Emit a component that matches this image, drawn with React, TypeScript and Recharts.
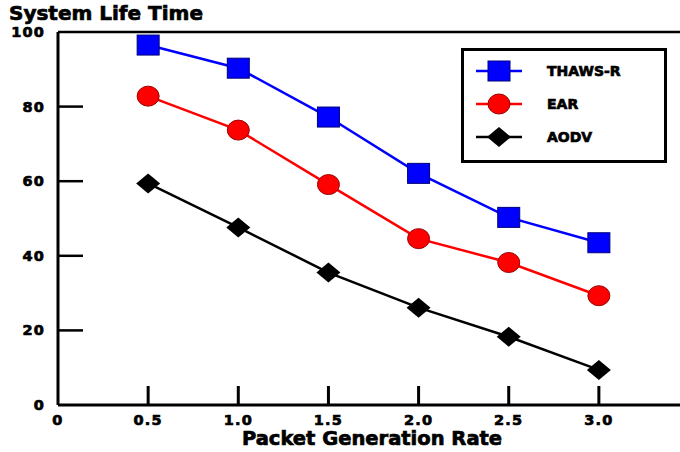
import { LineChart, Line, XAxis, YAxis, ReferenceLine } from 'recharts';

const rates = [0.5, 1.0, 1.5, 2.0, 2.5, 3.0];
const thawsR = [96.5, 90.3, 77.2, 62.1, 50.3, 43.5];
const ear = [82.8, 73.7, 59.1, 44.6, 38.2, 29.3];
const aodv = [59.4, 47.6, 35.5, 26.1, 18.3, 9.4];
const xTicks = [0, 0.5, 1.0, 1.5, 2.0, 2.5, 3.0];
const yTicks = [0, 20, 40, 60, 80, 100];

const data = rates.map((r, i) => ({ rate: r, thaws: thawsR[i], ear: ear[i], aodv: aodv[i] }));

const FONT = '"DejaVu Sans", Verdana, sans-serif';
const heavy = { fontFamily: FONT, fontWeight: 'bold' as const, fill: '#000', stroke: '#000', strokeWidth: 0.7 };

const SquareDot = (props: any) => {
  const { cx, cy } = props;
  if (cx == null || cy == null) return null;
  return <rect x={cx - 11} y={cy - 10} width={22} height={20} fill="#0000ff" stroke="#00007a" strokeWidth={1} />;
};

const CircleDot = (props: any) => {
  const { cx, cy } = props;
  if (cx == null || cy == null) return null;
  return <ellipse cx={cx} cy={cy} rx={11} ry={10} fill="#ff0000" stroke="#990000" strokeWidth={1} />;
};

const DiamondDot = (props: any) => {
  const { cx, cy } = props;
  if (cx == null || cy == null) return null;
  return <polygon points={`${cx - 12},${cy} ${cx},${cy - 10} ${cx + 12},${cy} ${cx},${cy + 10}`} fill="#000" />;
};

const XTick = (props: any) => {
  const { x, y, payload } = props;
  const v = payload.value as number;
  return (
    <g>
      {v !== 0 && <line x1={x} y1={y} x2={x} y2={y - 19} stroke="#000" strokeWidth={3} />}
      <text x={x} y={y + 20} textAnchor="middle" fontSize={14.5} letterSpacing={1.2} {...heavy}>
        {v === 0 ? '0' : v.toFixed(1)}
      </text>
    </g>
  );
};

const YTick = (props: any) => {
  const { y, payload } = props;
  const v = payload.value as number;
  const ax = 58;
  return (
    <g>
      {v !== 0 && v !== 100 && <line x1={ax} y1={y} x2={ax + 25} y2={y} stroke="#000" strokeWidth={2.5} />}
      <text x={ax - 13} y={y + 5} textAnchor="end" fontSize={14.5} letterSpacing={1.2} {...heavy}>
        {v}
      </text>
    </g>
  );
};

const legendItems = [
  { name: 'THAWS-R', color: '#0000ff', Dot: SquareDot },
  { name: 'EAR', color: '#ff0000', Dot: CircleDot },
  { name: 'AODV', color: '#000000', Dot: DiamondDot },
];

const LegendBox = () => (
  <svg width={206} height={115} style={{ display: 'block' }}>
    <rect x={1.5} y={1.5} width={203} height={112} fill="#fff" stroke="#000" strokeWidth={3} />
    {legendItems.map((it, i) => {
      const cy = 23 + i * 33;
      const D = it.Dot;
      return (
        <g key={it.name}>
          <line x1={15} y1={cy} x2={61} y2={cy} stroke={it.color} strokeWidth={2.5} />
          <D cx={38} cy={cy} />
          <text x={86} y={cy + 5} fontSize={14} {...heavy}>
            {it.name}
          </text>
        </g>
      );
    })}
  </svg>
);

export default function App() {
  return (
    <div style={{ position: 'absolute', left: 0, top: 0, width: 680, height: 452, background: '#fff' }}>
      <LineChart width={680} height={452} data={data} margin={{ top: 32, right: 0, bottom: 0, left: 0 }}>
        <XAxis
          dataKey="rate"
          type="number"
          domain={[0, 3.45]}
          ticks={xTicks}
          interval={0}
          allowDataOverflow
          axisLine={{ stroke: '#000', strokeWidth: 3 }}
          tickLine={false}
          tickSize={0}
          tickMargin={0}
          height={47}
          tick={<XTick />}
        />
        <YAxis
          type="number"
          domain={[0, 100]}
          ticks={yTicks}
          interval={0}
          width={58}
          axisLine={{ stroke: '#000', strokeWidth: 3 }}
          tickLine={false}
          tickSize={0}
          tick={<YTick />}
        />
        <ReferenceLine y={100} stroke="#000" strokeWidth={2.5} />
        <Line type="linear" dataKey="thaws" stroke="#0000ff" strokeWidth={2.5} dot={<SquareDot />} isAnimationActive={false} />
        <Line type="linear" dataKey="ear" stroke="#ff0000" strokeWidth={2.5} dot={<CircleDot />} isAnimationActive={false} />
        <Line type="linear" dataKey="aodv" stroke="#000000" strokeWidth={2.5} dot={<DiamondDot />} isAnimationActive={false} />
        <text x={9} y={20} fontSize={20} {...heavy}>
          System Life Time
        </text>
        <text x={372} y={445} textAnchor="middle" fontSize={19.5} {...heavy}>
          Packet Generation Rate
        </text>
      </LineChart>
      <div style={{ position: 'absolute', left: 461, top: 48 }}>
        <LegendBox />
      </div>
    </div>
  );
}
